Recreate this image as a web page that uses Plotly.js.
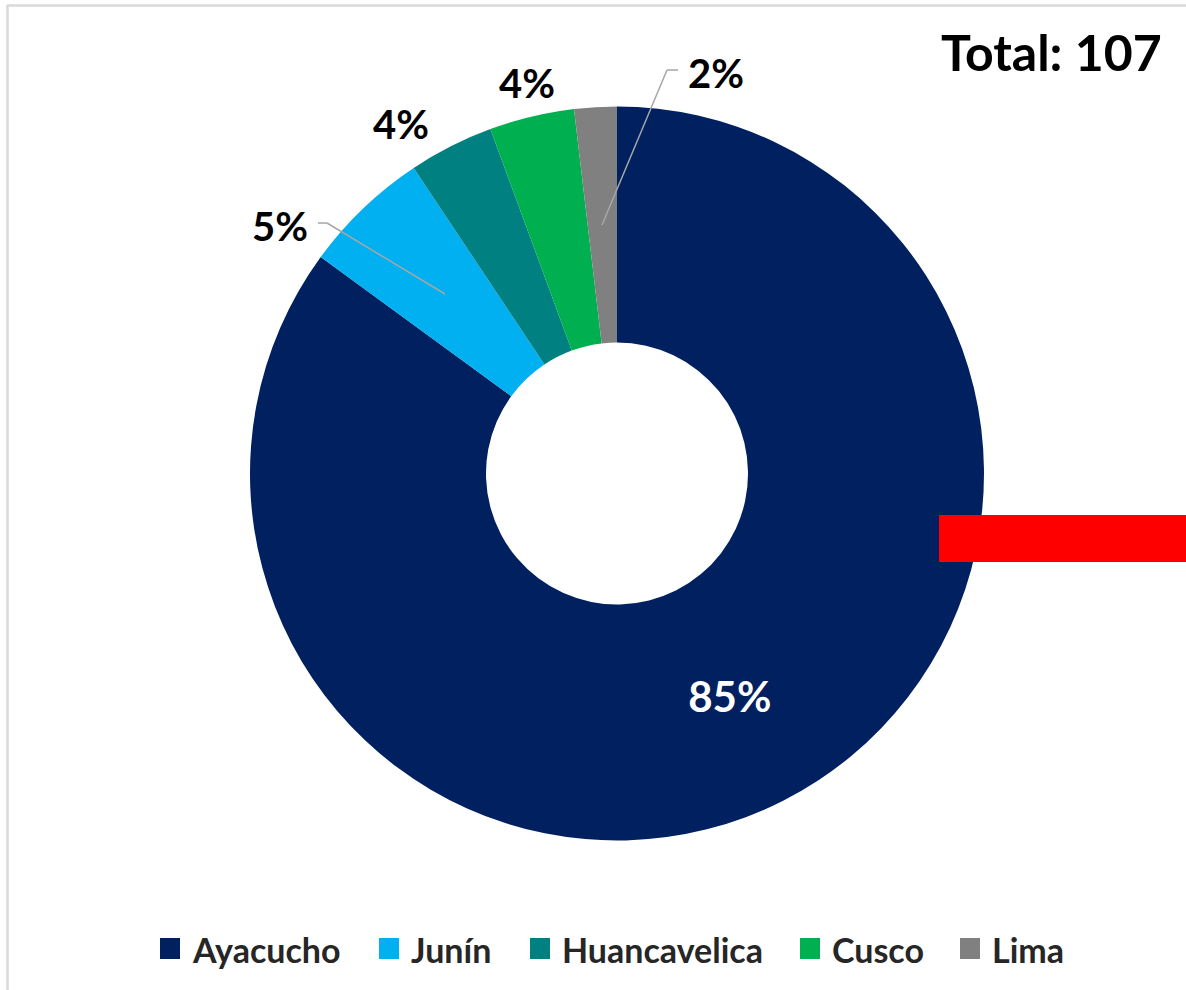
<!DOCTYPE html>
<html>
<head>
<meta charset="utf-8">
<script src="https://cdn.plot.ly/plotly-3.0.1.min.js"></script>
<style>
  html, body { margin: 0; padding: 0; background: #ffffff; }
  #chart { width: 1186px; height: 990px; }
</style>
</head>
<body>
<div id="chart"></div>
<script>
// ---- data ----
const categories = ['Ayacucho', 'Junín', 'Huancavelica', 'Cusco', 'Lima'];
const counts = [91, 6, 4, 4, 2];
const pctLabels = ['85%', '5%', '4%', '4%', '2%'];
const colors = ['#002060', '#00B0F0', '#008080', '#00B050', '#808080'];
const totalLabel = 'Total: 107';

// ---- layout helpers (pixel -> paper) ----
const W = 1186, H = 990;
const px = x => x / W;
const py = y => 1 - y / H;

const FONT = 'Lato, "Open Sans", sans-serif';

// outside label positions (px) for small slices
const outsidePos = [null, [280, 226], [401, 124], [527, 83], [716, 73]];

// legend item square x positions (px)
const legendX = [160, 379, 530, 800, 960];

const trace = {
  type: 'pie',
  labels: categories,
  values: counts,
  text: pctLabels.map((t, i) => i === 0 ? t : ''),
  textinfo: 'text',
  textposition: 'inside',
  insidetextorientation: 'horizontal',
  textfont: { family: FONT, size: 42, color: '#ffffff', weight: 'bold' },
  marker: { colors: colors, line: { width: 0 } },
  hole: 0.357,
  sort: false,
  direction: 'clockwise',
  rotation: 0,
  domain: { x: [250 / W, 984 / W], y: [149.5 / H, 883.5 / H] },
  showlegend: false,
  hoverinfo: 'label+value+percent'
};

const annotations = [];
const shapes = [];

// percentage labels outside
for (let i = 1; i < categories.length; i++) {
  const p = outsidePos[i];
  annotations.push({
    xref: 'paper', yref: 'paper', x: px(p[0]), y: py(p[1]),
    xanchor: 'center', yanchor: 'middle', showarrow: false,
    text: pctLabels[i],
    font: { family: FONT, size: 40, color: '#000000', weight: 'bold' }
  });
}

// total
annotations.push({
  xref: 'paper', yref: 'paper', x: px(1051), y: py(52),
  xanchor: 'center', yanchor: 'middle', showarrow: false,
  text: totalLabel,
  font: { family: FONT, size: 50, color: '#000000', weight: 'bold' }
});

// custom legend
categories.forEach((c, i) => {
  const x0 = legendX[i];
  shapes.push({
    type: 'rect', xref: 'paper', yref: 'paper',
    x0: px(x0), x1: px(x0 + 20), y0: py(959), y1: py(938),
    fillcolor: colors[i], line: { width: 0 }
  });
  annotations.push({
    xref: 'paper', yref: 'paper', x: px(x0 + 30), y: py(949),
    xanchor: 'left', yanchor: 'middle', showarrow: false,
    text: c,
    font: { family: FONT, size: 34, color: '#262626', weight: 'bold' }
  });
});

// leader lines
const leaderStyle = { color: '#A6A6A6', width: 1.5 };
const leaders = [
  [[318, 223], [327, 223], [445, 294]],
  [[678, 70], [667, 70], [602, 225]]
];
leaders.forEach(pts => {
  for (let k = 0; k < pts.length - 1; k++) {
    shapes.push({
      type: 'line', xref: 'paper', yref: 'paper',
      x0: px(pts[k][0]), y0: py(pts[k][1]), x1: px(pts[k + 1][0]), y1: py(pts[k + 1][1]),
      line: leaderStyle
    });
  }
});

// chart frame (top and left edges visible)
shapes.push({ type: 'line', xref: 'paper', yref: 'paper', x0: px(7), y0: py(5.5), x1: px(1186), y1: py(5.5), line: { color: '#D9D9D9', width: 2.5 } });
shapes.push({ type: 'line', xref: 'paper', yref: 'paper', x0: px(7.5), y0: py(5), x1: px(7.5), y1: py(990), line: { color: '#D9D9D9', width: 2.5 } });

// red bar
shapes.push({
  type: 'rect', xref: 'paper', yref: 'paper',
  x0: px(939), x1: px(1186), y0: py(562), y1: py(515),
  fillcolor: '#FF0000', line: { width: 0 }
});

const layout = {
  width: W, height: H,
  margin: { l: 0, r: 0, t: 0, b: 0 },
  paper_bgcolor: '#ffffff',
  plot_bgcolor: '#ffffff',
  showlegend: false,
  annotations: annotations,
  shapes: shapes
};

Plotly.newPlot('chart', [trace], layout, { displayModeBar: false, staticPlot: true });
</script>
</body>
</html>
